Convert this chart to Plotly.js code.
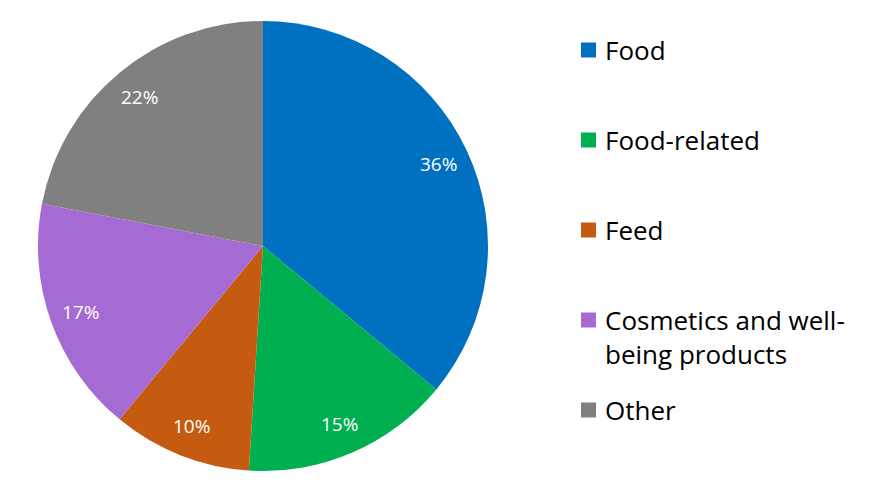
<!DOCTYPE html>
<html>
<head>
<meta charset="utf-8">
<script src="https://cdn.plot.ly/plotly-3.0.1.min.js"></script>
<style>html,body{margin:0;padding:0;background:#fff;}#chart{width:870px;height:497px;}</style>
</head>
<body>
<div id="chart"></div>
<script>
const categories = ["Food", "Food-related", "Feed", "Cosmetics and well-being products", "Other"];
const legendLabels = ["Food", "Food-related", "Feed", "Cosmetics and well-<br>being products", "Other"];
const shares = [36, 15, 10, 17, 22];
const colors = ["#0070C0", "#00B050", "#C55A11", "#A66BD3", "#808080"];

const W = 870, H = 497;
const font = "'Open Sans', Lato, sans-serif";

const cx = 263, cy = 246, R = 225; // pie geometry in px
const trace = {
  type: "pie",
  labels: categories,
  values: shares,
  sort: false,
  direction: "clockwise",
  rotation: 0,
  marker: { colors: colors, line: { color: "#ffffff", width: 0 } },
  textinfo: "none",
  hoverinfo: "label+percent",
  showlegend: false,
  domain: { x: [(cx - R) / W, (cx + R) / W], y: [(H - cy - R) / H, (H - cy + R) / H] }
};

const annotations = [];
const shapes = [];

// Percentage labels placed at the mid-angle of each slice (computed from data)
const total = shares.reduce((a, b) => a + b, 0);
let cum = 0;
shares.forEach((v, i) => {
  const mid = (cum + v / 2) / total * 2 * Math.PI;
  cum += v;
  const r = 0.86 * R;
  const px = cx + r * Math.sin(mid);
  const py = cy - r * Math.cos(mid);
  annotations.push({
    xref: "paper", yref: "paper",
    x: px / W, y: (H - py) / H,
    xanchor: "center", yanchor: "middle", showarrow: false,
    text: v + "%",
    font: { family: font, size: 19, color: "#ffffff" }
  });
});

// Custom legend built from the category arrays
const legendTop = 50;
const step = 90;
const sq = 15;
legendLabels.forEach((lab, i) => {
  const yc = legendTop + i * step;
  shapes.push({
    type: "rect", xref: "paper", yref: "paper",
    x0: 581 / W, x1: (581 + sq) / W,
    y0: (H - yc - sq / 2) / H, y1: (H - yc + sq / 2) / H,
    fillcolor: colors[i], line: { width: 0 }
  });
  annotations.push({
    xref: "paper", yref: "paper",
    x: 603 / W, y: (H - yc + 20) / H,
    xanchor: "left", yanchor: "top",
    align: "left", showarrow: false,
    text: lab,
    font: { family: font, size: 26, color: "#000000" }
  });
});

const layout = {
  width: W, height: H,
  margin: { l: 0, r: 0, t: 0, b: 0 },
  paper_bgcolor: "#ffffff",
  showlegend: false,
  shapes: shapes,
  annotations: annotations
};

Plotly.newPlot("chart", [trace], layout, { displayModeBar: false, staticPlot: true });
</script>
</body>
</html>
